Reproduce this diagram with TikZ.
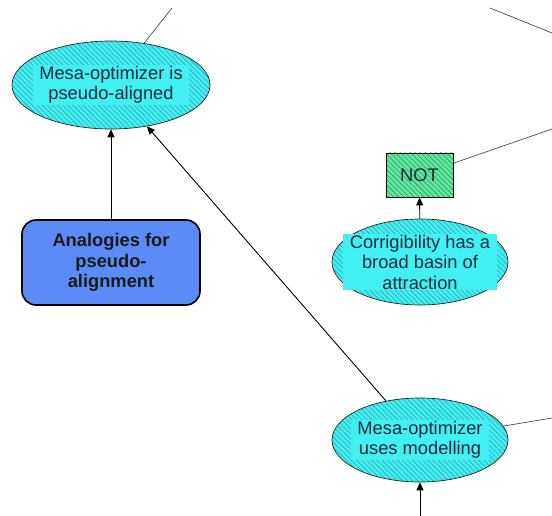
\documentclass[tikz,border=0pt]{standalone}
\usepackage{fontspec}
\setmainfont{Liberation Sans}
\usetikzlibrary{shapes.geometric,arrows.meta,patterns.meta}
\definecolor{cyfill}{HTML}{42F0F2}
\definecolor{cyhatch}{HTML}{34A6B4}
\definecolor{grfill}{HTML}{5EE89C}
\definecolor{grhatch}{HTML}{38966A}
\definecolor{bluefill}{HTML}{5B8BF6}
\definecolor{txtc}{HTML}{1B2B3B}
\begin{document}
\begin{tikzpicture}[x=1pt,y=-1pt,
  txt/.style={font=\fontsize{18.3}{20.5}\selectfont, text=txtc, align=center},
  ell/.style={ellipse, draw=black!85, line width=0.7pt, inner sep=0pt,
    preaction={fill=cyfill},
    pattern={Lines[angle=-45,distance=3.6pt,line width=0.6pt]}, pattern color=cyhatch},
  elltext/.style={txt, fill=cyfill, inner xsep=6pt, inner ysep=1pt},
  notbox/.style={rectangle, draw=black, line width=0.8pt, txt,
    preaction={fill=grfill},
    pattern={Lines[angle=-45,distance=3.6pt,line width=0.6pt]}, pattern color=grhatch},
  bluebox/.style={rectangle, rounded corners=14pt, draw=black, line width=1.6pt,
    fill=bluefill, txt, font=\fontsize{18.3}{20.5}\selectfont\bfseries, text=black!90},
  plain/.style={draw=black!70, line width=0.7pt},
  arr/.style={draw=black, line width=0.9pt, -{Triangle[length=8pt,width=7pt]}}]
\useasboundingbox (0,0) rectangle (552,516);

\node[ell, minimum width=198pt, minimum height=88pt] (e1) at (111,85) {};
\node[elltext] (e1t) at (e1.center) {Mesa-optimizer is\\pseudo-aligned};

\node[bluebox, minimum width=178pt, minimum height=85pt] (ab) at (111,262.5) {Analogies for\\pseudo-\\alignment};

\node[notbox, minimum width=67pt, minimum height=44pt] (not) at (419.5,175) {NOT};

\node[ell, minimum width=176pt, minimum height=86pt] (cor) at (420,262) {};
\node[elltext, inner xsep=7pt] (cort) at (cor.center) {Corrigibility has a\\broad basin of\\attraction};

\node[ell, minimum width=176pt, minimum height=84pt] (e3) at (420,440) {};
\node[elltext] (e3t) at (e3.center) {Mesa-optimizer\\uses modelling};

\coordinate (t1) at (172,8);
\coordinate (t2a) at (490,8);
\coordinate (t2b) at (552,33);
\coordinate (r1) at (552,129);
\coordinate (r2) at (552,418);
\coordinate (bot) at (420,516);

\draw[plain] (e1) -- (t1);
\draw[plain] (t2a) -- (t2b);
\draw[plain] (not) -- (r1);
\draw[plain] (e3) -- (r2);
\draw[arr] (bot) -- (e3);
\draw[arr] (ab) -- (e1);
\draw[arr] (e3) -- (e1);
\draw[arr] (cor) -- (not);
\end{tikzpicture}
\end{document}
